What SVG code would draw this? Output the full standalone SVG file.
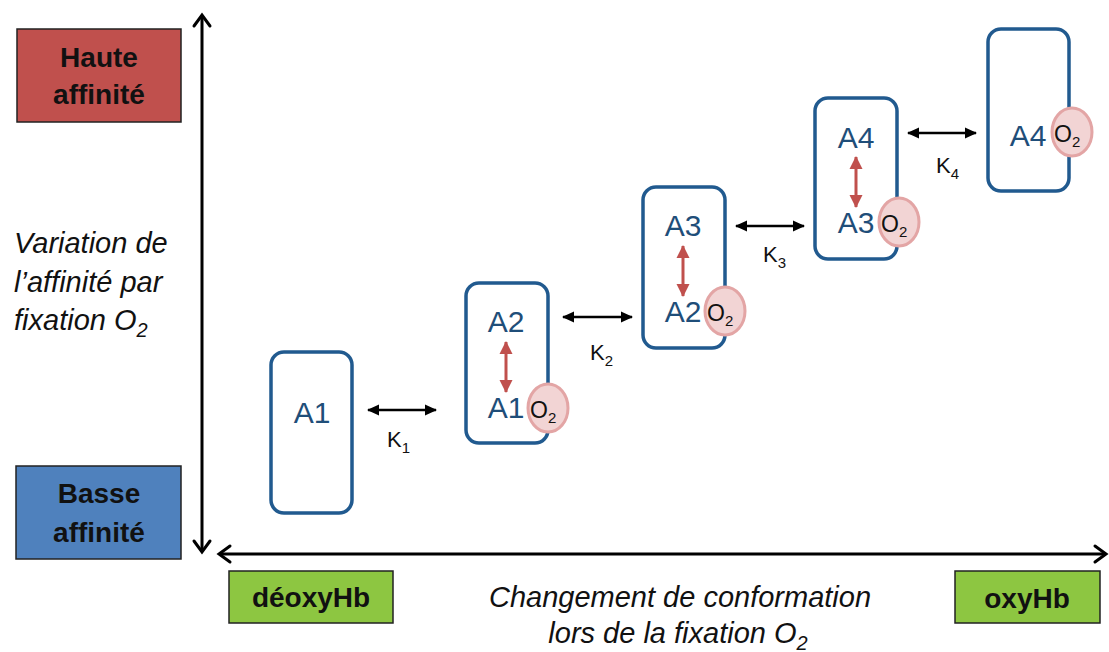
<svg xmlns="http://www.w3.org/2000/svg" width="1109" height="652" viewBox="0 0 1109 652">
<style>
.lbl{font-family:"Liberation Sans",Arial,sans-serif;font-weight:bold;font-size:28px;fill:#111;text-anchor:middle}
.lblbox{stroke:#222;stroke-width:1.5}
.it{font-family:"Liberation Sans",Arial,sans-serif;font-style:italic;font-size:29px;fill:#111}
.itsub{font-size:20px}
.node{fill:#fff;stroke:#215a8f;stroke-width:3.5}
.a{font-family:"Liberation Sans",Arial,sans-serif;font-size:30px;fill:#1f4e79;text-anchor:middle}
.o2{fill:#f2d4d4;stroke:#e3a5a5;stroke-width:3}
.ot{font-family:"Liberation Sans",Arial,sans-serif;font-size:23px;fill:#111}
.k{font-family:"Liberation Sans",Arial,sans-serif;font-size:22px;fill:#111}
.sub{font-size:15px}
.axis{stroke:#000;stroke-width:3;fill:none}
.chev{stroke:#000;stroke-width:3;fill:none;stroke-linecap:round;stroke-linejoin:miter}
.karr{stroke:#000;stroke-width:2.5}
.rarr{stroke:#c0504d;stroke-width:3}
</style>
<defs>
<marker id="kh" markerUnits="userSpaceOnUse" markerWidth="12" markerHeight="12" refX="11" refY="6" orient="auto-start-reverse">
<path d="M0,0.5 L12,6 L0,11.5 Z" fill="#000"/>
</marker>
<marker id="rh" markerUnits="userSpaceOnUse" markerWidth="14" markerHeight="14" refX="12" refY="7" orient="auto-start-reverse">
<path d="M0,0.5 L13,7 L0,13.5 Z" fill="#c0504d"/>
</marker>
</defs>

<g id="haute">
<rect class="lblbox" x="17" y="29" width="164" height="93" fill="#c0504d"/>
<text class="lbl" x="99" y="67">Haute</text>
<text class="lbl" x="99" y="104">affinité</text>
</g>
<g id="basse">
<rect class="lblbox" x="16" y="466" width="165" height="93" fill="#4f81bd"/>
<text class="lbl" x="99" y="503">Basse</text>
<text class="lbl" x="99" y="542">affinité</text>
</g>
<g id="deoxyhb">
<rect class="lblbox" x="229" y="571" width="164" height="52" fill="#8dc641"/>
<text class="lbl" x="311" y="607">déoxyHb</text>
</g>
<g id="oxyhb">
<rect class="lblbox" x="955" y="571" width="145" height="52" fill="#8dc641"/>
<text class="lbl" x="1027" y="608">oxyHb</text>
</g>

<g id="ylabel">
<text class="it" x="14" y="253">Variation de</text>
<text class="it" x="14" y="292">l’affinité par</text>
<text class="it" x="14" y="330">fixation O<tspan class="itsub" dy="7">2</tspan></text>
</g>
<g id="xlabel">
<text class="it" x="680" y="607" text-anchor="middle">Changement de conformation</text>
<text class="it" x="678" y="643" text-anchor="middle">lors de la fixation O<tspan class="itsub" dy="7">2</tspan></text>
</g>

<g id="klabels">
<text class="k" x="387" y="447">K<tspan class="sub" dy="6">1</tspan></text>
<text class="k" x="590" y="360">K<tspan class="sub" dy="6">2</tspan></text>
<text class="k" x="763" y="262">K<tspan class="sub" dy="6">3</tspan></text>
<text class="k" x="936" y="173">K<tspan class="sub" dy="6">4</tspan></text>
</g>

<g id="node-a1">
<rect class="node" x="271" y="352" width="81" height="161" rx="13"/>
<text class="a" x="312" y="423">A1</text>
</g>
<g id="node-a2">
<rect class="node" x="466" y="283" width="82" height="160" rx="13"/>
<text class="a" x="506" y="332">A2</text>
<text class="a" x="506" y="418">A1</text>
<ellipse class="o2" cx="548" cy="408" rx="20" ry="24"/>
<text class="ot" x="530" y="418">O<tspan class="sub" dy="5">2</tspan></text>
</g>
<g id="node-a3">
<rect class="node" x="643" y="187" width="82" height="161" rx="13"/>
<text class="a" x="683" y="236">A3</text>
<text class="a" x="683" y="322">A2</text>
<ellipse class="o2" cx="725" cy="311" rx="20" ry="24"/>
<text class="ot" x="707" y="321">O<tspan class="sub" dy="5">2</tspan></text>
</g>
<g id="node-a4">
<rect class="node" x="815" y="98" width="82" height="161" rx="13"/>
<text class="a" x="856" y="148">A4</text>
<text class="a" x="856" y="233">A3</text>
<ellipse class="o2" cx="899" cy="222" rx="20" ry="24"/>
<text class="ot" x="881" y="232">O<tspan class="sub" dy="5">2</tspan></text>
</g>
<g id="node-a4o2">
<rect class="node" x="988" y="29" width="81" height="162" rx="13"/>
<text class="a" x="1028" y="146">A4</text>
<ellipse class="o2" cx="1072" cy="132" rx="20" ry="24"/>
<text class="ot" x="1054" y="142">O<tspan class="sub" dy="5">2</tspan></text>
</g>

<g id="connectors">
<line class="axis" x1="202" y1="15" x2="202" y2="552"/>
<path class="chev" d="M194,26 L202,15 L210,26"/>
<path class="chev" d="M194,541 L202,552 L210,541"/>
<line class="axis" x1="219" y1="554" x2="1106" y2="554"/>
<path class="chev" d="M230,546 L219,554 L230,562"/>
<path class="chev" d="M1095,546 L1106,554 L1095,562"/>

<line class="karr" x1="368" y1="410" x2="436" y2="410" marker-start="url(#kh)" marker-end="url(#kh)"/>
<line class="karr" x1="563" y1="317" x2="632" y2="317" marker-start="url(#kh)" marker-end="url(#kh)"/>
<line class="karr" x1="736" y1="226" x2="804" y2="226" marker-start="url(#kh)" marker-end="url(#kh)"/>
<line class="karr" x1="908" y1="133" x2="976" y2="133" marker-start="url(#kh)" marker-end="url(#kh)"/>

<line class="rarr" x1="506" y1="342" x2="506" y2="392" marker-start="url(#rh)" marker-end="url(#rh)"/>
<line class="rarr" x1="683" y1="246" x2="683" y2="296" marker-start="url(#rh)" marker-end="url(#rh)"/>
<line class="rarr" x1="856" y1="157" x2="856" y2="207" marker-start="url(#rh)" marker-end="url(#rh)"/>
</g>
</svg>
